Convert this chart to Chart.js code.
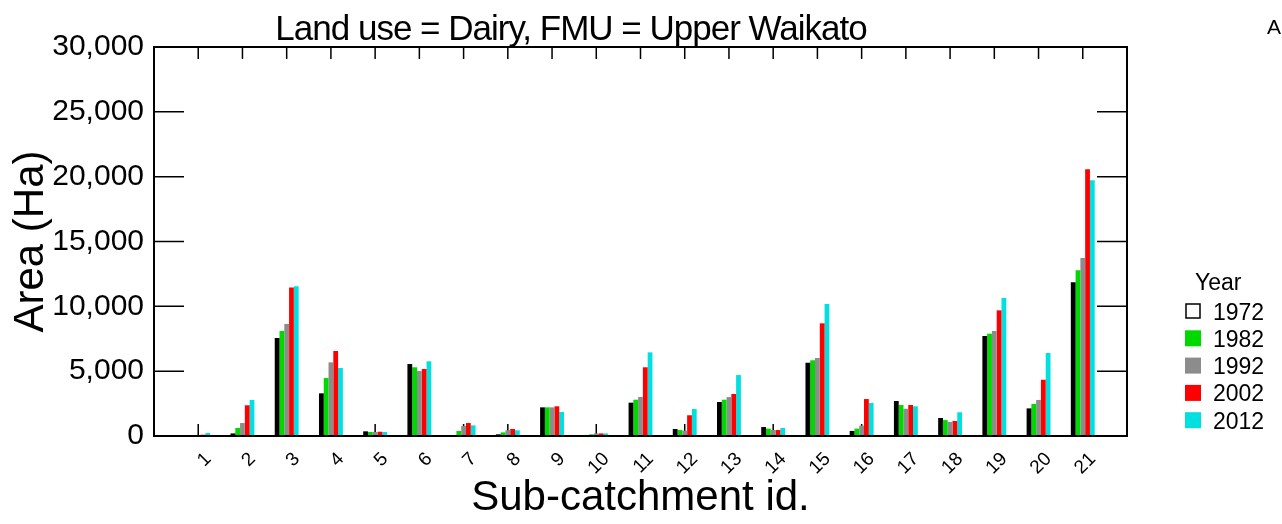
<!DOCTYPE html>
<html>
<head>
<meta charset="utf-8">
<script src="https://cdn.jsdelivr.net/npm/chart.js@4.4.1/dist/chart.umd.min.js"></script>
<style>
    html, body { margin: 0; padding: 0; background: #fff; }
    #wrap { width: 1282px; height: 524px; }
</style>
</head>
<body>
<div id="wrap"><canvas id="chart" width="1282" height="524"></canvas></div>
<script>
const FONT = '"Liberation Sans", Arial, sans-serif';

const categories = ['1', '2', '3', '4', '5', '6', '7', '8', '9', '10', '11',
    '12', '13', '14', '15', '16', '17', '18', '19', '20', '21'];

const years = ['1972', '1982', '1992', '2002', '2012'];

const area1972 = [15, 200, 7560, 3290, 360, 5550, 80, 130, 2210, 80, 2570, 540, 2620, 690, 5650, 390, 2700, 1390, 7710, 2130, 11850];
const area1982 = [60, 620, 8100, 4470, 310, 5300, 390, 280, 2210, 130, 2800, 460, 2800, 570, 5840, 570, 2390, 1230, 7890, 2470, 12780];
const area1992 = [80, 1000, 8640, 5680, 310, 5010, 770, 440, 2210, 200, 3010, 410, 3000, 460, 6015, 800, 2100, 1080, 8100, 2780, 13730];
const area2002 = [100, 2370, 11450, 6555, 330, 5170, 1000, 540, 2290, 200, 5300, 1600, 3240, 460, 8690, 2850, 2390, 1160, 9690, 4340, 20570];
const area2012 = [230, 2780, 11550, 5245, 310, 5760, 820, 440, 1850, 200, 6450, 2080, 4700, 617, 10180, 2545, 2290, 1830, 10640, 6400, 19720];

const yTicks = [0, 5000, 10000, 15000, 20000, 25000, 30000];

const YEAR_COLORS = {
    '1972': '#000000',
    '1982': '#00d900',
    '1992': '#8c8c8c',
    '2002': '#ff0000',
    '2012': '#00e0e0'
};

const seriesByYear = {
    '1972': area1972,
    '1982': area1982,
    '1992': area1992,
    '2002': area2002,
    '2012': area2012
};

// empty slot on each side so the groups sit one category in from the frame
const labels = ['', ...categories, ''];

const datasets = years.map(yr => ({
    label: yr,
    data: [null, ...seriesByYear[yr], null],
    backgroundColor: YEAR_COLORS[yr],
    borderWidth: 0,
    barPercentage: 1.0,
    categoryPercentage: 0.54
}));

// inward ticks go under the bars, frame/title/legend on top
const decor = {
    id: 'decor',
    beforeDatasetsDraw(chart) {
        const { ctx, chartArea: a, scales: { x, y } } = chart;
        ctx.save();
        ctx.strokeStyle = '#000';
        ctx.lineWidth = 1.5;
        ctx.beginPath();
        yTicks.forEach(v => {
            const py = y.getPixelForValue(v);
            ctx.moveTo(a.left, py); ctx.lineTo(a.left + 30, py);
            ctx.moveTo(a.right - 30, py); ctx.lineTo(a.right, py);
        });
        categories.forEach((c, i) => {
            const px = x.getPixelForValue(i + 1);
            ctx.moveTo(px, a.bottom); ctx.lineTo(px, a.bottom - 12);
            ctx.moveTo(px, a.top); ctx.lineTo(px, a.top + 12);
        });
        ctx.stroke();
        ctx.restore();
    },
    afterDraw(chart) {
        const { ctx, chartArea: a } = chart;
        ctx.save();

        ctx.strokeStyle = '#000';
        ctx.lineWidth = 2;
        ctx.strokeRect(a.left, a.top, a.right - a.left, a.bottom - a.top);

        ctx.fillStyle = '#000';
        ctx.textBaseline = 'alphabetic';
        ctx.textAlign = 'center';
        ctx.font = '35px ' + FONT;
        ctx.letterSpacing = '-1px';
        ctx.fillText('Land use = Dairy, FMU = Upper Waikato', 571, 40);
        ctx.letterSpacing = '0px';

        ctx.textAlign = 'left';
        ctx.font = '21px ' + FONT;
        ctx.fillText('A', 1267, 34);

        // legend
        ctx.font = '23px ' + FONT;
        ctx.fillText('Year', 1195, 290);
        years.forEach((yr, i) => {
            const cy = 311 + i * 27.3;
            if (yr === '1972') {
                ctx.fillStyle = '#fff';
                ctx.fillRect(1186, cy - 7, 14, 14);
                ctx.strokeStyle = '#000';
                ctx.lineWidth = 1.5;
                ctx.strokeRect(1186, cy - 7, 14, 14);
            } else {
                ctx.fillStyle = YEAR_COLORS[yr];
                ctx.fillRect(1185, cy - 8, 16, 16);
            }
            ctx.fillStyle = '#000';
            ctx.fillText(yr, 1213, cy + 8.5);
        });

        ctx.restore();
    }
};

new Chart(document.getElementById('chart'), {
    type: 'bar',
    data: { labels, datasets },
    options: {
        responsive: false,
        animation: false,
        layout: { padding: { top: 47, right: 155, left: 0, bottom: 0 } },
        plugins: {
            legend: { display: false },
            tooltip: { enabled: false }
        },
        scales: {
            x: {
                offset: false,
                grid: { display: false, drawTicks: false },
                border: { display: false },
                afterFit: s => { s.height = 88; },
                ticks: {
                    autoSkip: false,
                    maxRotation: 45,
                    minRotation: 45,
                    labelOffset: 10,
                    padding: 12,
                    color: '#000',
                    font: { family: FONT, size: 19 },
                    callback: function(value) { return this.getLabelForValue(value); }
                },
                title: {
                    display: true,
                    text: 'Sub-catchment id.',
                    color: '#000',
                    font: { family: FONT, size: 42, lineHeight: 1.2 },
                    padding: 0
                }
            },
            y: {
                min: 0,
                max: 30000,
                grid: { display: false, drawTicks: false },
                border: { display: false },
                afterFit: s => { s.width = 154; },
                ticks: {
                    stepSize: 5000,
                    padding: 10,
                    color: '#000',
                    font: { family: FONT, size: 30 },
                    callback: v => v.toLocaleString('en-US')
                },
                title: {
                    display: true,
                    text: 'Area (Ha)',
                    color: '#000',
                    font: { family: FONT, size: 42, lineHeight: 1.2 },
                    padding: { top: 6, bottom: 0 }
                }
            }
        }
    },
    plugins: [decor]
});
</script>
</body>
</html>
